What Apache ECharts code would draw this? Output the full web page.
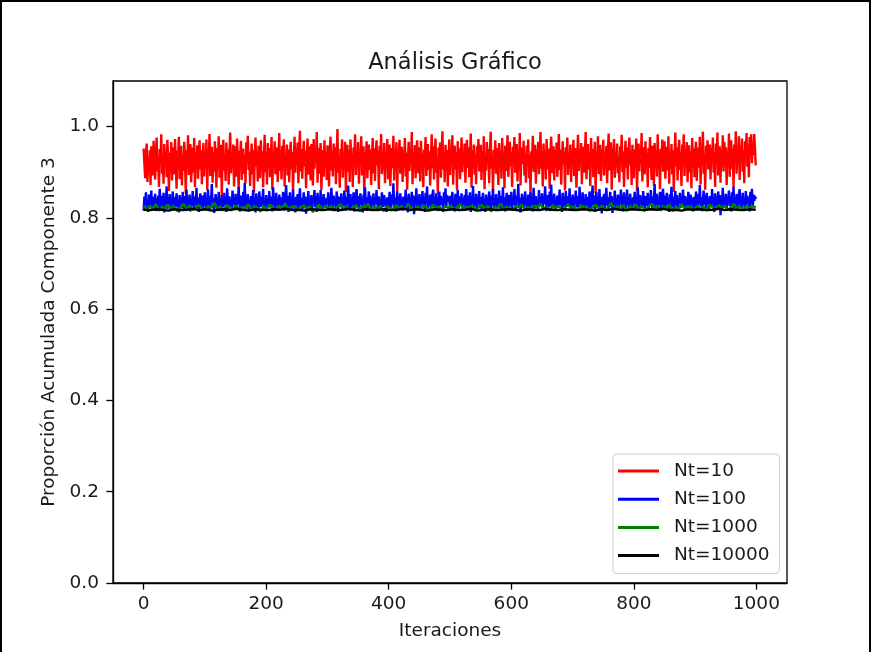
<!DOCTYPE html>
<html>
<head>
<meta charset="utf-8">
<script src="https://cdn.jsdelivr.net/npm/echarts@6/dist/echarts.min.js"></script>
<style>
  html, body { margin: 0; padding: 0; background: #fff; overflow: hidden; }
  #chart { position: absolute; left: 0; top: 0; width: 873px; height: 652px; }
  #frame { position: absolute; left: 0; top: 0; width: 867px; height: 700px;
           border: 2px solid #000; border-bottom: none; pointer-events: none; }
</style>
</head>
<body>
<div id="chart"></div>
<div id="frame"></div>
<script>
var xTicks = [0, 200, 400, 600, 800, 1000];
var yTicks = [0, 0.2, 0.4, 0.6, 0.8, 1.0];
var seriesNames = ['Nt=10', 'Nt=100', 'Nt=1000', 'Nt=10000'];
var colors = ['#ff0000', '#0000ff', '#008000', '#000000'];

// Nt=10 (una muestra cada ~1.25 iteraciones)
var nt10 = [
    0.952, 0.918, 0.887, 0.941, 0.963, 0.879, 0.930, 0.905, 0.948, 0.872, 0.957, 0.926, 0.893, 0.969, 0.911, 0.884, 0.944, 0.976, 0.902, 0.935,
    0.868, 0.951, 0.921, 0.983, 0.897, 0.939, 0.875, 0.962, 0.914, 0.946, 0.889, 0.971, 0.928, 0.859, 0.943, 0.908, 0.966, 0.882, 0.924, 0.955,
    0.896, 0.973, 0.917, 0.864, 0.947, 0.931, 0.978, 0.885, 0.919, 0.958, 0.871, 0.937, 0.903, 0.967, 0.926, 0.853, 0.949, 0.912, 0.981, 0.894,
    0.936, 0.962, 0.878, 0.921, 0.954, 0.899, 0.975, 0.867, 0.942, 0.915, 0.959, 0.886, 0.932, 0.970, 0.906, 0.948, 0.874, 0.927, 0.964, 0.891,
    0.945, 0.909, 0.972, 0.861, 0.938, 0.923, 0.984, 0.892, 0.913, 0.956, 0.877, 0.944, 0.901, 0.968, 0.929, 0.866, 0.953, 0.918, 0.979, 0.888,
    0.933, 0.960, 0.848, 0.925, 0.971, 0.904, 0.940, 0.881, 0.965, 0.916, 0.950, 0.873, 0.936, 0.987, 0.898, 0.943, 0.910, 0.961, 0.869, 0.927,
    0.957, 0.890, 0.974, 0.920, 0.863, 0.947, 0.934, 0.969, 0.883, 0.911, 0.952, 0.897, 0.939, 0.876, 0.966, 0.922, 0.980, 0.905, 0.945, 0.870,
    0.928, 0.963, 0.895, 0.949, 0.856, 0.935, 0.976, 0.912, 0.942, 0.880, 0.958, 0.924, 0.887, 0.970, 0.908, 0.946, 0.867, 0.931, 0.982, 0.900,
    0.941, 0.873, 0.964, 0.917, 0.953, 0.889, 0.929, 0.977, 0.862, 0.944, 0.910, 0.968, 0.896, 0.937, 0.955, 0.879, 0.921, 0.986, 0.903, 0.948,
    0.884, 0.958, 0.926, 0.972, 0.869, 0.940, 0.914, 0.961, 0.893, 0.950, 0.878, 0.933, 0.967, 0.907, 0.944, 0.858, 0.925, 0.978, 0.899, 0.953,
    0.918, 0.965, 0.876, 0.939, 0.991, 0.902, 0.951, 0.886, 0.930, 0.969, 0.913, 0.947, 0.865, 0.936, 0.974, 0.895, 0.957, 0.920, 0.882, 0.962,
    0.931, 0.871, 0.973, 0.908, 0.945, 0.924, 0.988, 0.877, 0.953, 0.897, 0.938, 0.964, 0.861, 0.927, 0.949, 0.890, 0.970, 0.915, 0.942, 0.883,
    0.959, 0.922, 0.869, 0.946, 0.978, 0.904, 0.934, 0.891, 0.963, 0.917, 0.955, 0.874, 0.940, 0.995, 0.899, 0.932, 0.866, 0.951, 0.926, 0.972,
    0.888, 0.943, 0.910, 0.967, 0.857, 0.936, 0.960, 0.901, 0.948, 0.879, 0.972, 0.919, 0.941, 0.868, 0.954, 0.928, 0.983, 0.894, 0.939, 0.912,
    0.966, 0.875, 0.945, 0.924, 0.979, 0.893, 0.930, 0.957, 0.851, 0.943, 0.913, 0.968, 0.887, 0.934, 0.961, 0.905, 0.950, 0.872, 0.927, 0.975,
    0.898, 0.952, 0.881, 0.938, 0.970, 0.915, 0.947, 0.863, 0.958, 0.923, 0.984, 0.896, 0.935, 0.906, 0.964, 0.876, 0.944, 0.918, 0.973, 0.885,
    0.937, 0.961, 0.870, 0.926, 0.953, 0.909, 0.980, 0.882, 0.948, 0.916, 0.966, 0.859, 0.940, 0.928, 0.971, 0.897, 0.932, 0.956, 0.879, 0.949,
    0.912, 0.975, 0.891, 0.943, 0.862, 0.931, 0.967, 0.903, 0.952, 0.920, 0.988, 0.874, 0.938, 0.911, 0.959, 0.887, 0.945, 0.970, 0.898, 0.926,
    0.955, 0.880, 0.969, 0.914, 0.941, 0.867, 0.950, 0.925, 0.977, 0.892, 0.933, 0.962, 0.905, 0.946, 0.871, 0.928, 0.983, 0.909, 0.957, 0.884,
    0.940, 0.974, 0.899, 0.931, 0.852, 0.954, 0.917, 0.965, 0.888, 0.942, 0.990, 0.906, 0.937, 0.878, 0.960, 0.923, 0.949, 0.869, 0.934, 0.972,
    0.894, 0.947, 0.921, 0.981, 0.873, 0.939, 0.958, 0.907, 0.944, 0.861, 0.968, 0.916, 0.952, 0.885, 0.930, 0.976, 0.900, 0.945, 0.919, 0.963,
    0.877, 0.936, 0.971, 0.910, 0.955, 0.889, 0.927, 0.985, 0.866, 0.948, 0.912, 0.961, 0.895, 0.940, 0.874, 0.957, 0.925, 0.973, 0.902, 0.933,
    0.960, 0.883, 0.946, 0.918, 0.979, 0.863, 0.937, 0.904, 0.966, 0.928, 0.951, 0.876, 0.942, 0.989, 0.908, 0.931, 0.856, 0.949, 0.915, 0.970,
    0.897, 0.953, 0.929, 0.872, 0.964, 0.911, 0.947, 0.886, 0.975, 0.920, 0.938, 0.865, 0.958, 0.903, 0.943, 0.981, 0.890, 0.926, 0.967, 0.913,
    0.944, 0.868, 0.956, 0.932, 0.977, 0.899, 0.921, 0.962, 0.880, 0.948, 0.907, 0.986, 0.871, 0.935, 0.954, 0.918, 0.969, 0.893, 0.941, 0.877,
    0.958, 0.914, 0.972, 0.887, 0.939, 0.851, 0.946, 0.925, 0.980, 0.901, 0.934, 0.960, 0.875, 0.950, 0.916, 0.967, 0.896, 0.928, 0.988, 0.908,
    0.936, 0.869, 0.963, 0.919, 0.945, 0.884, 0.973, 0.906, 0.952, 0.931, 0.864, 0.942, 0.978, 0.898, 0.924, 0.957, 0.882, 0.948, 0.912, 0.965,
    0.890, 0.940, 0.984, 0.905, 0.950, 0.873, 0.929, 0.968, 0.917, 0.944, 0.860, 0.955, 0.922, 0.976, 0.894, 0.937, 0.909, 0.961, 0.879, 0.946,
    0.927, 0.971, 0.892, 0.953, 0.912, 0.866, 0.938, 0.982, 0.903, 0.947, 0.921, 0.964, 0.874, 0.933, 0.956, 0.899, 0.941, 0.988, 0.885, 0.930,
    0.962, 0.907, 0.943, 0.870, 0.975, 0.924, 0.951, 0.889, 0.936, 0.967, 0.854, 0.945, 0.913, 0.979, 0.896, 0.934, 0.960, 0.881, 0.949, 0.920,
    0.971, 0.893, 0.939, 0.915, 0.958, 0.876, 0.944, 0.985, 0.904, 0.930, 0.966, 0.862, 0.952, 0.927, 0.973, 0.888, 0.941, 0.911, 0.963, 0.898,
    0.935, 0.878, 0.957, 0.923, 0.982, 0.900, 0.946, 0.868, 0.929, 0.969, 0.910, 0.954, 0.884, 0.938, 0.976, 0.916, 0.947, 0.872, 0.960, 0.926,
    0.887, 0.950, 0.914, 0.974, 0.859, 0.933, 0.963, 0.902, 0.944, 0.921, 0.986, 0.880, 0.937, 0.955, 0.896, 0.968, 0.918, 0.942, 0.867, 0.953,
    0.909, 0.977, 0.931, 0.883, 0.958, 0.940, 0.871, 0.964, 0.912, 0.948, 0.891, 0.983, 0.925, 0.936, 0.863, 0.951, 0.919, 0.972, 0.901, 0.945,
    0.968, 0.886, 0.932, 0.956, 0.904, 0.979, 0.875, 0.941, 0.920, 0.962, 0.895, 0.948, 0.857, 0.930, 0.987, 0.913, 0.954, 0.882, 0.939, 0.971,
    0.905, 0.944, 0.870, 0.961, 0.927, 0.983, 0.892, 0.950, 0.915, 0.966, 0.878, 0.937, 0.959, 0.900, 0.946, 0.865, 0.975, 0.923, 0.952, 0.889,
    0.942, 0.967, 0.881, 0.929, 0.954, 0.910, 0.978, 0.873, 0.948, 0.933, 0.989, 0.897, 0.940, 0.862, 0.958, 0.918, 0.970, 0.906, 0.935, 0.961,
    0.884, 0.953, 0.921, 0.976, 0.899, 0.944, 0.868, 0.963, 0.926, 0.987, 0.893, 0.938, 0.957, 0.877, 0.949, 0.911, 0.981, 0.902, 0.966, 0.930,
    0.955, 0.872, 0.945, 0.913, 0.985, 0.890, 0.934, 0.970, 0.908, 0.952, 0.866, 0.961, 0.924, 0.990, 0.897, 0.946, 0.918, 0.979, 0.883, 0.957,
    0.928, 0.974, 0.901, 0.949, 0.876, 0.968, 0.933, 0.986, 0.912, 0.960, 0.889, 0.977, 0.941, 0.983, 0.920, 0.965, 0.938, 0.984, 0.950, 0.915
];

// Nt=100
var nt100 = [
    0.816, 0.847, 0.829, 0.856, 0.821, 0.838, 0.813, 0.851, 0.834, 0.824, 0.860, 0.819, 0.841, 0.846, 0.826, 0.853, 0.815, 0.843, 0.831, 0.849,
    0.822, 0.864, 0.835, 0.817, 0.848, 0.827, 0.855, 0.812, 0.842, 0.832, 0.869, 0.820, 0.839, 0.825, 0.852, 0.816, 0.844, 0.833, 0.858, 0.823,
    0.845, 0.818, 0.837, 0.854, 0.825, 0.840, 0.812, 0.850, 0.830, 0.845, 0.821, 0.857, 0.836, 0.815, 0.848, 0.828, 0.862, 0.819, 0.838, 0.831,
    0.851, 0.814, 0.842, 0.826, 0.859, 0.833, 0.817, 0.847, 0.829, 0.866, 0.822, 0.844, 0.813, 0.838, 0.854, 0.824, 0.849, 0.818, 0.836, 0.832,
    0.856, 0.820, 0.841, 0.827, 0.862, 0.831, 0.816, 0.848, 0.835, 0.874, 0.823, 0.843, 0.811, 0.837, 0.852, 0.828, 0.845, 0.819, 0.857, 0.830,
    0.839, 0.815, 0.850, 0.834, 0.823, 0.855, 0.829, 0.844, 0.813, 0.865, 0.836, 0.820, 0.847, 0.827, 0.841, 0.817, 0.860, 0.831, 0.838, 0.825,
    0.853, 0.818, 0.842, 0.830, 0.868, 0.833, 0.814, 0.849, 0.837, 0.822, 0.857, 0.826, 0.877, 0.819, 0.844, 0.832, 0.852, 0.815, 0.839, 0.828,
    0.848, 0.821, 0.836, 0.861, 0.827, 0.843, 0.812, 0.854, 0.834, 0.840, 0.816, 0.858, 0.835, 0.824, 0.846, 0.829, 0.864, 0.818, 0.837, 0.826,
    0.850, 0.815, 0.842, 0.831, 0.859, 0.823, 0.836, 0.847, 0.814, 0.867, 0.832, 0.844, 0.820, 0.855, 0.828, 0.839, 0.817, 0.851, 0.834, 0.825,
    0.845, 0.821, 0.857, 0.833, 0.816, 0.841, 0.872, 0.827, 0.848, 0.813, 0.835, 0.856, 0.824, 0.843, 0.819, 0.862, 0.831, 0.840, 0.812, 0.846,
    0.829, 0.852, 0.820, 0.838, 0.865, 0.826, 0.844, 0.815, 0.833, 0.856, 0.823, 0.847, 0.809, 0.839, 0.832, 0.859, 0.819, 0.842, 0.828, 0.850,
    0.817, 0.843, 0.836, 0.861, 0.824, 0.848, 0.813, 0.855, 0.831, 0.840, 0.820, 0.861, 0.828, 0.845, 0.816, 0.852, 0.834, 0.839, 0.823, 0.844,
    0.832, 0.856, 0.819, 0.842, 0.826, 0.866, 0.837, 0.815, 0.849, 0.830, 0.844, 0.821, 0.858, 0.835, 0.813, 0.847, 0.837, 0.825, 0.854, 0.818,
    0.841, 0.827, 0.860, 0.834, 0.816, 0.846, 0.831, 0.871, 0.822, 0.838, 0.852, 0.819, 0.843, 0.829, 0.856, 0.814, 0.839, 0.836, 0.863, 0.824,
    0.848, 0.817, 0.838, 0.854, 0.828, 0.842, 0.812, 0.851, 0.833, 0.867, 0.823, 0.845, 0.816, 0.837, 0.858, 0.826, 0.849, 0.820, 0.840, 0.831,
    0.854, 0.821, 0.843, 0.830, 0.861, 0.834, 0.815, 0.847, 0.827, 0.841, 0.818, 0.856, 0.832, 0.824, 0.850, 0.829, 0.842, 0.813, 0.845, 0.835,
    0.822, 0.857, 0.838, 0.817, 0.851, 0.831, 0.876, 0.825, 0.844, 0.814, 0.839, 0.859, 0.828, 0.848, 0.819, 0.854, 0.832, 0.841, 0.816, 0.847,
    0.837, 0.823, 0.862, 0.830, 0.844, 0.812, 0.853, 0.834, 0.841, 0.818, 0.857, 0.827, 0.849, 0.808, 0.842, 0.833, 0.865, 0.821, 0.838, 0.829,
    0.852, 0.816, 0.841, 0.835, 0.859, 0.825, 0.847, 0.813, 0.855, 0.832, 0.869, 0.820, 0.844, 0.828, 0.851, 0.817, 0.841, 0.837, 0.862, 0.823,
    0.845, 0.819, 0.854, 0.831, 0.842, 0.815, 0.858, 0.827, 0.848, 0.834, 0.843, 0.813, 0.856, 0.830, 0.865, 0.822, 0.850, 0.836, 0.847, 0.839,
    0.818, 0.849, 0.827, 0.857, 0.822, 0.839, 0.814, 0.853, 0.835, 0.825, 0.861, 0.820, 0.840, 0.847, 0.827, 0.854, 0.816, 0.844, 0.832, 0.850,
    0.823, 0.863, 0.836, 0.818, 0.849, 0.828, 0.856, 0.813, 0.843, 0.833, 0.870, 0.821, 0.840, 0.826, 0.853, 0.817, 0.845, 0.834, 0.859, 0.824,
    0.846, 0.819, 0.838, 0.855, 0.826, 0.841, 0.813, 0.851, 0.831, 0.846, 0.822, 0.858, 0.837, 0.816, 0.849, 0.829, 0.863, 0.820, 0.839, 0.832,
    0.852, 0.815, 0.843, 0.827, 0.860, 0.834, 0.818, 0.848, 0.830, 0.867, 0.823, 0.845, 0.814, 0.839, 0.855, 0.825, 0.850, 0.819, 0.837, 0.833,
    0.857, 0.821, 0.842, 0.828, 0.863, 0.832, 0.817, 0.849, 0.836, 0.875, 0.824, 0.844, 0.812, 0.838, 0.853, 0.829, 0.846, 0.820, 0.858, 0.831,
    0.840, 0.816, 0.851, 0.835, 0.824, 0.856, 0.830, 0.845, 0.814, 0.866, 0.837, 0.821, 0.848, 0.828, 0.842, 0.818, 0.861, 0.832, 0.839, 0.826,
    0.854, 0.819, 0.843, 0.831, 0.869, 0.834, 0.815, 0.850, 0.838, 0.823, 0.858, 0.827, 0.873, 0.820, 0.845, 0.833, 0.853, 0.816, 0.840, 0.829,
    0.849, 0.822, 0.837, 0.862, 0.828, 0.844, 0.813, 0.855, 0.835, 0.841, 0.817, 0.859, 0.836, 0.825, 0.847, 0.830, 0.865, 0.819, 0.838, 0.827,
    0.851, 0.816, 0.843, 0.832, 0.860, 0.824, 0.837, 0.848, 0.815, 0.868, 0.833, 0.845, 0.821, 0.856, 0.829, 0.840, 0.818, 0.852, 0.835, 0.826,
    0.846, 0.822, 0.858, 0.834, 0.817, 0.842, 0.871, 0.828, 0.849, 0.814, 0.836, 0.857, 0.825, 0.844, 0.820, 0.863, 0.832, 0.841, 0.810, 0.847,
    0.830, 0.853, 0.821, 0.839, 0.866, 0.827, 0.845, 0.816, 0.834, 0.857, 0.824, 0.848, 0.811, 0.840, 0.833, 0.860, 0.820, 0.843, 0.829, 0.851,
    0.818, 0.844, 0.837, 0.862, 0.825, 0.849, 0.814, 0.856, 0.832, 0.841, 0.821, 0.862, 0.829, 0.846, 0.817, 0.853, 0.835, 0.840, 0.824, 0.845,
    0.833, 0.857, 0.820, 0.843, 0.827, 0.867, 0.838, 0.816, 0.850, 0.831, 0.845, 0.822, 0.859, 0.836, 0.814, 0.848, 0.838, 0.826, 0.855, 0.819,
    0.842, 0.828, 0.861, 0.835, 0.817, 0.847, 0.832, 0.874, 0.823, 0.839, 0.853, 0.820, 0.844, 0.830, 0.857, 0.815, 0.840, 0.837, 0.864, 0.825,
    0.849, 0.818, 0.839, 0.855, 0.829, 0.843, 0.813, 0.852, 0.834, 0.868, 0.824, 0.846, 0.817, 0.838, 0.859, 0.827, 0.850, 0.821, 0.841, 0.832,
    0.855, 0.822, 0.844, 0.831, 0.862, 0.835, 0.816, 0.848, 0.828, 0.842, 0.819, 0.857, 0.833, 0.825, 0.851, 0.830, 0.843, 0.814, 0.846, 0.836,
    0.823, 0.858, 0.839, 0.818, 0.852, 0.832, 0.872, 0.826, 0.845, 0.815, 0.840, 0.860, 0.829, 0.849, 0.820, 0.855, 0.833, 0.842, 0.817, 0.848,
    0.838, 0.824, 0.863, 0.831, 0.845, 0.813, 0.854, 0.835, 0.842, 0.819, 0.858, 0.828, 0.850, 0.806, 0.843, 0.834, 0.866, 0.822, 0.839, 0.830,
    0.853, 0.817, 0.842, 0.836, 0.860, 0.826, 0.848, 0.814, 0.856, 0.833, 0.868, 0.821, 0.845, 0.829, 0.852, 0.818, 0.842, 0.838, 0.863, 0.824,
    0.846, 0.820, 0.855, 0.832, 0.843, 0.816, 0.859, 0.828, 0.849, 0.835, 0.844, 0.814, 0.857, 0.831, 0.864, 0.823, 0.851, 0.837, 0.848, 0.841
];

// Nt=1000 (una muestra cada ~5 iteraciones)
var nt1000 = [
    0.824, 0.818, 0.827, 0.821, 0.830, 0.816, 0.825, 0.822, 0.829, 0.819, 0.826, 0.815, 0.823, 0.831, 0.820, 0.827, 0.817, 0.824, 0.828, 0.821,
    0.818, 0.826, 0.822, 0.833, 0.819, 0.825, 0.816, 0.828, 0.823, 0.820, 0.827, 0.818, 0.824, 0.821, 0.830, 0.817, 0.826, 0.822, 0.814, 0.825,
    0.820, 0.829, 0.823, 0.818, 0.827, 0.821, 0.832, 0.819, 0.824, 0.826, 0.817, 0.823, 0.828, 0.820, 0.825, 0.813, 0.822, 0.829, 0.819, 0.826,
    0.821, 0.827, 0.816, 0.824, 0.830, 0.820, 0.825, 0.818, 0.823, 0.828, 0.819, 0.826, 0.822, 0.831, 0.817, 0.824, 0.821, 0.827, 0.815, 0.825,
    0.823, 0.818, 0.828, 0.821, 0.826, 0.819, 0.831, 0.822, 0.817, 0.825, 0.820, 0.827, 0.823, 0.816, 0.829, 0.821, 0.825, 0.819, 0.826, 0.822,
    0.827, 0.819, 0.824, 0.830, 0.818, 0.825, 0.821, 0.828, 0.816, 0.823, 0.829, 0.820, 0.826, 0.814, 0.824, 0.822, 0.832, 0.819, 0.825, 0.821,
    0.818, 0.826, 0.823, 0.829, 0.817, 0.824, 0.820, 0.827, 0.822, 0.831, 0.819, 0.825, 0.816, 0.828, 0.821, 0.826, 0.818, 0.823, 0.830, 0.820,
    0.825, 0.817, 0.828, 0.822, 0.826, 0.815, 0.824, 0.829, 0.820, 0.827, 0.818, 0.823, 0.833, 0.819, 0.825, 0.821, 0.828, 0.816, 0.824, 0.822,
    0.829, 0.820, 0.826, 0.818, 0.823, 0.831, 0.821, 0.827, 0.817, 0.825, 0.822, 0.828, 0.815, 0.824, 0.820, 0.830, 0.819, 0.826, 0.823, 0.818,
    0.827, 0.821, 0.825, 0.816, 0.829, 0.823, 0.819, 0.828, 0.822, 0.826, 0.817, 0.824, 0.830, 0.820, 0.825, 0.818, 0.827, 0.821, 0.826, 0.823
];

// Nt=10000 (una muestra cada ~10 iteraciones)
var nt10000 = [
    0.818, 0.817, 0.819, 0.818, 0.816, 0.819, 0.817, 0.818, 0.820, 0.817,
    0.819, 0.816, 0.818, 0.819, 0.817, 0.820, 0.818, 0.816, 0.819, 0.818,
    0.817, 0.819, 0.818, 0.820, 0.817, 0.818, 0.816, 0.819, 0.818, 0.817,
    0.819, 0.818, 0.817, 0.820, 0.818, 0.816, 0.819, 0.817, 0.818, 0.819,
    0.817, 0.818, 0.820, 0.817, 0.819, 0.818, 0.816, 0.819, 0.818, 0.817,
    0.819, 0.817, 0.818, 0.820, 0.816, 0.818, 0.819, 0.817, 0.818, 0.819,
    0.818, 0.816, 0.819, 0.818, 0.817, 0.820, 0.818, 0.817, 0.819, 0.818,
    0.817, 0.819, 0.818, 0.816, 0.819, 0.817, 0.820, 0.818, 0.817, 0.819,
    0.818, 0.817, 0.819, 0.818, 0.820, 0.817, 0.818, 0.816, 0.819, 0.818,
    0.819, 0.817, 0.818, 0.820, 0.817, 0.819, 0.818, 0.817, 0.819, 0.818
];

var lastIter = 999;

function toPairs(values) {
    var step = lastIter / (values.length - 1);
    return values.map(function (v, i) { return [i * step, v]; });
}

var font = 'DejaVu Sans';
var textColor = '#1a1a1a';

var chart = echarts.init(document.getElementById('chart'));
var option = {
    animation: false,
    color: colors,
    textStyle: { fontFamily: font, color: textColor },
    title: {
        text: 'Análisis Gráfico',
        left: 450,
        top: 47,
        textAlign: 'center',
        textStyle: { fontFamily: font, fontSize: 22.5, fontWeight: 'normal', color: textColor }
    },
    grid: {
        left: 113,
        right: 86,
        top: 81,
        bottom: 69,
        show: true,
        borderColor: '#000',
        borderWidth: 1.3,
        backgroundColor: '#fff'
    },
    legend: {
        data: seriesNames,
        orient: 'vertical',
        left: 613,
        top: 454,
        icon: 'rect',
        itemWidth: 41,
        itemHeight: 3,
        itemGap: 8.2,
        padding: [7, 10, 8, 5],
        backgroundColor: 'rgba(255,255,255,0.8)',
        borderColor: '#cccccc',
        borderWidth: 1,
        borderRadius: 4,
        textStyle: { fontFamily: font, fontSize: 18.5, color: textColor, lineHeight: 20, padding: [0, 0, 0, 10] }
    },
    xAxis: {
        type: 'value',
        min: -50,
        max: 1050,
        name: 'Iteraciones',
        nameLocation: 'middle',
        nameGap: 39,
        nameTextStyle: { fontFamily: font, fontSize: 18.5, color: textColor },
        splitLine: { show: false },
        axisLine: { show: true, onZero: false, lineStyle: { color: '#000', width: 1.3 } },
        axisTick: { show: true, length: 6.6, lineStyle: { color: '#000', width: 1.3 }, customValues: xTicks },
        axisLabel: {
            fontFamily: font, fontSize: 18.5, color: textColor, margin: 12, customValues: xTicks,
            formatter: function (v) { return String(v); }
        }
    },
    yAxis: {
        type: 'value',
        min: 0,
        max: 1.1,
        name: 'Proporción Acumulada Componente 3',
        nameLocation: 'middle',
        nameGap: 46,
        nameTextStyle: { fontFamily: font, fontSize: 18.5, color: textColor },
        splitLine: { show: false },
        axisLine: { show: true, onZero: false, lineStyle: { color: '#000', width: 1.3 } },
        axisTick: { show: true, length: 6.6, lineStyle: { color: '#000', width: 1.3 }, customValues: yTicks },
        axisLabel: {
            fontFamily: font, fontSize: 18.5, color: textColor, margin: 14, customValues: yTicks,
            formatter: function (v) { return v.toFixed(1); }
        }
    },
    series: [nt10, nt100, nt1000, nt10000].map(function (vals, k) {
        return {
            name: seriesNames[k],
            type: 'line',
            data: toPairs(vals),
            showSymbol: false,
            sampling: null,
            lineStyle: { width: 2.4, color: colors[k] },
            itemStyle: { color: colors[k] },
            z: 2 + k
        };
    })
};
chart.setOption(option);
</script>
</body>
</html>
